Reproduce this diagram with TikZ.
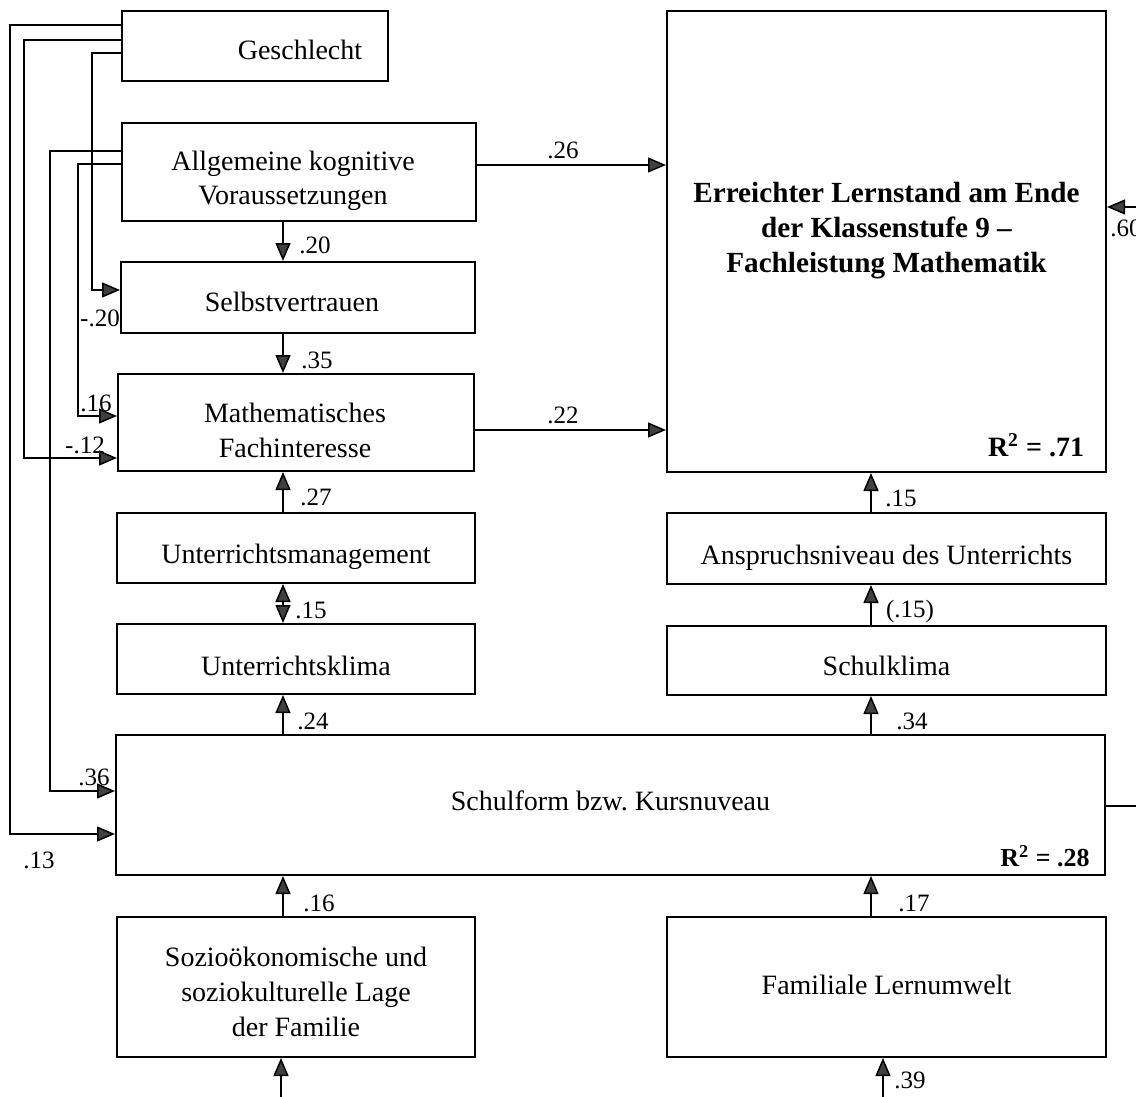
\documentclass[tikz,border=0pt]{standalone}
\usepackage{fontspec}
\setmainfont{Liberation Serif}
\usetikzlibrary{arrows.meta,calc}
\begin{document}
\begin{tikzpicture}[x=0.5pt,y=-0.5pt,
  box/.style={draw, line width=1pt, inner sep=0pt},
  txt/.style={inner sep=0pt, align=center, font=\fontsize{14}{17.3}\selectfont},
  arr/.style={line width=0.75pt, -{Triangle[length=9pt,width=7.5pt,fill=black!75]}},
  darr/.style={line width=0.75pt, {Triangle[length=9pt,width=7.5pt,fill=black!75]}-{Triangle[length=9pt,width=7.5pt,fill=black!75]}},
  lab/.style={inner sep=0pt, font=\fontsize{12.5}{15}\selectfont},
  rsq/.style={inner sep=0pt, font=\fontsize{14}{17}\selectfont\bfseries}]
\useasboundingbox (0,0) rectangle (1136,1097);

% boxes
\node[box, minimum width=133pt, minimum height=35pt] (gesch) at (255,46) {};
\node[box, minimum width=177pt, minimum height=49pt] (allg) at (299,172) {};
\node[box, minimum width=177pt, minimum height=35.5pt] (selbst) at (298,297.5) {};
\node[box, minimum width=178pt, minimum height=48.5pt] (mathe) at (296,422.5) {};
\node[box, minimum width=179pt, minimum height=35pt] (uman) at (296,548) {};
\node[box, minimum width=179pt, minimum height=35pt] (ukli) at (296,659) {};
\node[box, minimum width=494.5pt, minimum height=70pt] (schul) at (610.5,805) {};
\node[box, minimum width=179pt, minimum height=70pt] (sozio) at (296,987) {};
\node[box, minimum width=219.5pt, minimum height=230.5pt] (err) at (886.5,241.5) {};
\node[box, minimum width=219.5pt, minimum height=35.5pt] (ansp) at (886.5,548.5) {};
\node[box, minimum width=219.5pt, minimum height=34.5pt] (skli) at (886.5,660.5) {};
\node[box, minimum width=219.5pt, minimum height=70pt] (fam) at (886.5,987) {};

% box texts
\node[txt] (gtext) at (300,50) {Geschlecht};
\node[txt] (atext) at ($(allg.center)+(-6,9)$) {Allgemeine kognitive\\Voraussetzungen};
\node[txt] (stext) at ($(selbst.center)+(-6,4)$) {Selbstvertrauen};
\node[txt] (mtext) at ($(mathe.center)+(-1,8)$) {Mathematisches\\Fachinteresse};
\node[txt] (umtext) at ($(uman.center)+(0,9)$) {Unterrichtsmanagement};
\node[txt] (uktext) at ($(ukli.center)+(0,7)$) {Unterrichtsklima};
\node[txt] (sftext) at ($(schul.center)+(0,-4)$) {Schulform bzw.\ Kursnuveau};
\node[txt] (sotext) at ($(sozio.center)+(0,5)$) {Sozioökonomische und\\soziokulturelle Lage\\der Familie};
\node[txt, font=\fontsize{14.6}{17.3}\selectfont\bfseries] (etext) at ($(err.center)+(0,-11)$) {Erreichter Lernstand am Ende\\der Klassenstufe 9 --\\Fachleistung Mathematik};
\node[txt] (antext) at ($(ansp.center)+(0,9)$) {Anspruchsniveau des Unterrichts};
\node[txt] (sktext) at ($(skli.center)+(0,5)$) {Schulklima};
\node[txt] (ftext) at ($(fam.center)+(0,-2)$) {Familiale Lernumwelt};

\node[rsq] (r71) at (1036,445) {R\textsuperscript{2} = .71};
\node[rsq, font=\fontsize{13}{16}\selectfont\bfseries] (r28) at (1045,856) {R\textsuperscript{2} = .28};

% column coordinates
\coordinate (cl) at (283,0);
\coordinate (cr) at (871,0);

% vertical arrows left column
\draw[arr] (cl |- allg.south) -- (cl |- selbst.north);
\draw[arr] (cl |- selbst.south) -- (cl |- mathe.north);
\draw[arr] (cl |- uman.north) -- (cl |- mathe.south);
\draw[darr] (cl |- uman.south) -- (cl |- ukli.north);
\draw[arr] (cl |- schul.north) -- (cl |- ukli.south);
\draw[arr] (cl |- sozio.north) -- (cl |- schul.south);
\coordinate (sbot) at (281,1100);
\draw[arr] (sbot) -- (sbot |- sozio.south);

% vertical arrows right column
\draw[arr] (cr |- ansp.north) -- (cr |- err.south);
\draw[arr] (cr |- skli.north) -- (cr |- ansp.south);
\draw[arr] (cr |- schul.north) -- (cr |- skli.south);
\draw[arr] (cr |- fam.north) -- (cr |- schul.south);
\coordinate (fbot) at (883,1100);
\draw[arr] (fbot) -- (fbot |- fam.south);

% horizontal arrows
\coordinate (h1) at ($(allg.east)+(0,-7)$);
\draw[arr] (h1) -- (h1 -| err.west);
\coordinate (h2) at ($(mathe.east)+(0,7.5)$);
\draw[arr] (h2) -- (h2 -| err.west);

% left feedback lines
\draw[arr] ($(gesch.west)+(0,-21)$) -- (10,25) -- (10,834) -- ($(schul.west)+(0,29)$);
\draw[arr] ($(gesch.west)+(0,-6)$) -- (24,40) -- (24,458) -- ($(mathe.west)+(0,35.5)$);
\draw[arr] ($(gesch.west)+(0,7)$) -- (92,53) -- (92,290) -- ($(selbst.west)+(0,-7.5)$);
\draw[arr] ($(allg.west)+(0,-21)$) -- (50,151) -- (50,791) -- ($(schul.west)+(0,-14)$);
\draw[arr] ($(allg.west)+(0,-8)$) -- (78,164) -- (78,416) -- ($(mathe.west)+(0,-6.5)$);

% right side line (leaves the picture)
\coordinate (rin) at (1150,207);
\draw[arr] ($(schul.east)+(0,1)$) -- (1150,806) -- (rin) -- (rin -| err.east);

% labels
\node[lab] (l20) at (315,245) {.20};
\node[lab] (l35) at (317,360) {.35};
\node[lab] (l27) at (316,497) {.27};
\node[lab] (l15a) at (311,610) {.15};
\node[lab] (l24) at (313,721) {.24};
\node[lab] (l16a) at (319,903) {.16};
\node[lab] (l26) at (563,150) {.26};
\node[lab] (l22) at (563,415) {.22};
\node[lab] (l15b) at (901,498) {.15};
\node[lab] (l15c) at (910,611) {(.15)};
\node[lab] (l34) at (912,721) {.34};
\node[lab] (l17) at (914,903) {.17};
\node[lab] (l39) at (910,1080) {.39};
\node[lab] (lm20) at (100,318) {-.20};
\node[lab] (l16b) at (96,403) {.16};
\node[lab] (lm12) at (85,445) {-.12};
\node[lab] (l36) at (94,777) {.36};
\node[lab] (l13) at (39,860) {.13};
\node[lab, anchor=west] (l60) at (1110,228) {.60};
\end{tikzpicture}
\end{document}
